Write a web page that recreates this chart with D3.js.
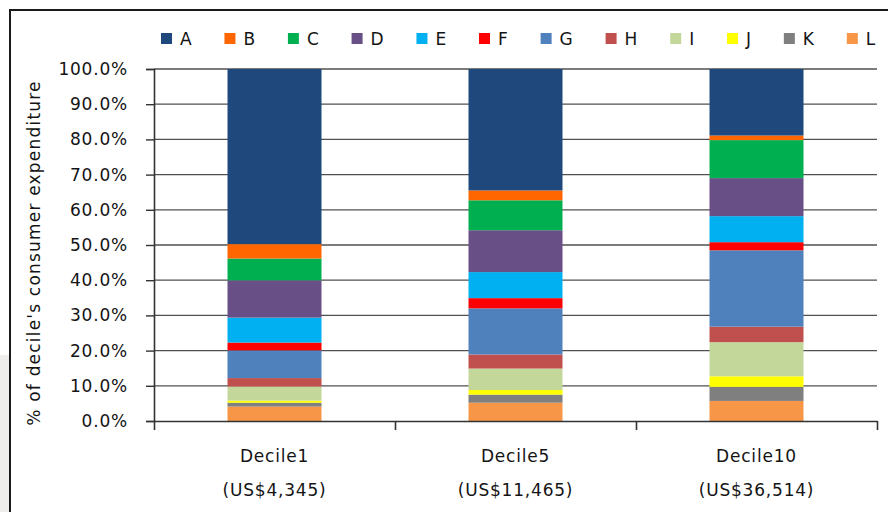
<!DOCTYPE html>
<html>
<head>
<meta charset="utf-8">
<script src="https://cdn.jsdelivr.net/npm/d3@7"></script>
<style>
  html, body { margin: 0; padding: 0; background: #ffffff; }
  svg { display: block; }
  text { font-family: "DejaVu Sans", sans-serif; fill: #141414; }
</style>
</head>
<body>
<svg id="chart" width="888" height="512"></svg>
<script>
// Income deciles and their average consumer expenditure
const categories = ["Decile1", "Decile5", "Decile10"];
const incomes = ["(US$4,345)", "(US$11,465)", "(US$36,514)"];

// Spending groups, in legend order
const seriesNames = ["A", "B", "C", "D", "E", "F", "G", "H", "I", "J", "K", "L"];

// Share of each decile's consumer expenditure (%), one array per group
const shareA = [49.8, 34.5, 18.9];
const shareB = [4.1, 2.8, 1.3];
const shareC = [6.2, 8.5, 10.8];
const shareD = [10.6, 11.9, 10.8];
const shareE = [7.1, 7.4, 7.4];
const shareF = [2.2, 2.9, 2.3];
const shareG = [7.9, 13.1, 21.7];
const shareH = [2.4, 4.0, 4.4];
const shareI = [4.0, 6.1, 9.7];
const shareJ = [0.6, 1.3, 3.0];
const shareK = [1.1, 2.3, 4.0];
const shareL = [4.1, 5.2, 5.7];

// Axis ticks
const yTicks = [0, 0.1, 0.2, 0.3, 0.4, 0.5, 0.6, 0.7, 0.8, 0.9, 1.0];

const colors = {
  A: "#1F497D", B: "#FF6600", C: "#00B050", D: "#684F86",
  E: "#00B0F0", F: "#FF0000", G: "#4F81BD", H: "#C0504D",
  I: "#C4D79B", J: "#FFFF00", K: "#7F7F7F", L: "#F79646"
};

const shares = { A: shareA, B: shareB, C: shareC, D: shareD, E: shareE, F: shareF,
                 G: shareG, H: shareH, I: shareI, J: shareJ, K: shareK, L: shareL };

const table = categories.map((c, i) => {
  const row = { category: c };
  seriesNames.forEach(k => { row[k] = shares[k][i]; });
  return row;
});

const FONT_SIZE = 17;
const SPACING = "0.8px";

const svg = d3.select("#chart");

// Outer panel: grey strip at the lower left and the dark frame
svg.append("rect").attr("x", 0).attr("y", 355).attr("width", 9).attr("height", 157).attr("fill", "#efecec");
svg.append("path")
  .attr("d", "M10,512 L10,10 L888,10")
  .attr("fill", "none").attr("stroke", "#1a1a1a").attr("stroke-width", 2);

const plot = { left: 154, right: 877, top: 69, bottom: 421 };

const x = d3.scaleBand().domain(categories).range([plot.left, plot.right]).padding(0);
const xEdges = d3.scaleLinear().domain([0, categories.length]).range([plot.left, plot.right]);
const y = d3.scaleLinear().domain([0, 1]).range([plot.bottom, plot.top]);
const barW = x.bandwidth() * 0.39;

// Horizontal gridlines
svg.append("g").selectAll("line").data(yTicks.slice(1)).join("line")
  .attr("x1", plot.left).attr("x2", plot.right)
  .attr("y1", d => y(d)).attr("y2", d => y(d))
  .attr("stroke", "#505050").attr("stroke-width", 1.3);

// Stacked 100% bars, bottom group is L and top group is A
const stack = d3.stack().keys(seriesNames.slice().reverse()).offset(d3.stackOffsetExpand);
const layers = stack(table);

svg.append("g").selectAll("g").data(layers).join("g")
  .attr("fill", d => colors[d.key])
  .selectAll("rect").data(d => d).join("rect")
  .attr("x", d => x(d.data.category) + (x.bandwidth() - barW) / 2)
  .attr("width", barW)
  .attr("y", d => y(d[1]))
  .attr("height", d => y(d[0]) - y(d[1]));

// Y axis
const yAxis = svg.append("g")
  .attr("transform", `translate(${plot.left},0)`)
  .call(d3.axisLeft(y).tickValues(yTicks).tickFormat(d3.format(".1%")).tickSize(8).tickPadding(18));
yAxis.select(".domain").attr("stroke", "#333").attr("stroke-width", 1.6);
yAxis.selectAll(".tick line").attr("stroke", "#333").attr("stroke-width", 1.4);
yAxis.selectAll(".tick text")
  .style("font-family", "'DejaVu Sans', sans-serif")
  .attr("font-size", FONT_SIZE).attr("fill", "#141414").style("letter-spacing", SPACING);

// X axis with ticks at the category boundaries
const xAxis = svg.append("g")
  .attr("transform", `translate(0,${plot.bottom})`)
  .call(d3.axisBottom(xEdges).tickValues(d3.range(0, categories.length + 1)).tickFormat("").tickSizeInner(9).tickSizeOuter(0));
xAxis.select(".domain").attr("stroke", "#333").attr("stroke-width", 1.6);
xAxis.selectAll(".tick line").attr("stroke", "#333").attr("stroke-width", 1.6);

// Category labels on two lines
const catLabels = svg.append("g").selectAll("text").data(categories).join("text")
  .attr("text-anchor", "middle")
  .attr("font-size", FONT_SIZE)
  .style("letter-spacing", SPACING)
  .attr("transform", d => `translate(${x(d) + x.bandwidth() / 2},0)`);
catLabels.append("tspan").attr("x", 0).attr("y", 462).text(d => d);
catLabels.append("tspan").attr("x", 0).attr("y", 496).text((d, i) => incomes[i]);

// Y axis title
svg.append("text")
  .attr("transform", "translate(40,253) rotate(-90)")
  .attr("text-anchor", "middle")
  .attr("font-size", FONT_SIZE)
  .style("letter-spacing", "1.2px")
  .text("% of decile's consumer expenditure");

// Legend laid out left to right
const legend = svg.append("g").attr("transform", "translate(161,0)");
let lx = 0;
seriesNames.forEach(k => {
  const item = legend.append("g").attr("transform", `translate(${lx},0)`);
  item.append("rect").attr("x", 0).attr("y", 33).attr("width", 11).attr("height", 11).attr("fill", colors[k]);
  const t = item.append("text").attr("x", 19).attr("y", 45)
    .attr("font-size", FONT_SIZE).style("letter-spacing", SPACING).text(k);
  lx += 19 + t.node().getComputedTextLength() + 32;
});
</script>
</body>
</html>
